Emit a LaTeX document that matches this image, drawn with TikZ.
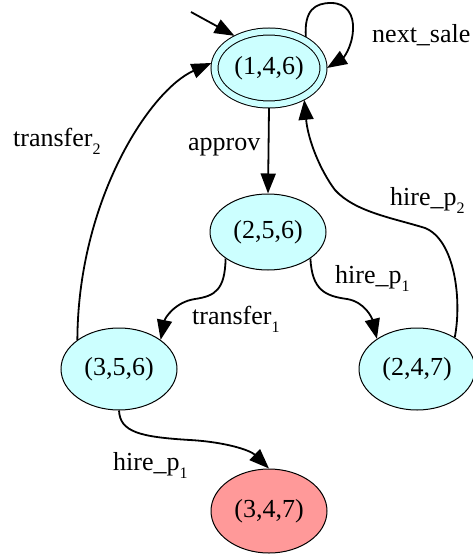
\documentclass[tikz,border=0pt]{standalone}
\usepackage{fontspec}
\setmainfont{Liberation Serif}
\usetikzlibrary{shapes.geometric,arrows.meta}
\definecolor{statecyan}{RGB}{204,255,255}
\definecolor{statered}{RGB}{255,153,153}
\newcommand{\lsub}[1]{\raisebox{-8pt}{\fontsize{16}{18}\selectfont #1}}
\begin{document}
\begin{tikzpicture}[x=1pt,y=-1pt,
  state/.style={ellipse,draw,line width=1pt,fill=statecyan,inner sep=0pt,
    minimum width=116pt,font=\fontsize{26}{30}\selectfont},
  accept/.style={state,double=statecyan,double distance=6pt,outer sep=3.5pt},
  edge/.style={line width=1.8pt,-{Triangle[length=20pt,width=15pt]}},
  lbl/.style={anchor=base west,inner sep=0pt,font=\fontsize{26}{30}\selectfont}]
\useasboundingbox (0,0) rectangle (472,556);

% States
\node[accept, minimum width=109pt, minimum height=73pt] (n146) at (269,68) {(1,4,6)};
\node[state, minimum height=76pt] (n256) at (268,232) {(2,5,6)};
\node[state, minimum height=82pt] (n356) at (119,369) {(3,5,6)};
\node[state, minimum height=82pt] (n247) at (417,369) {(2,4,7)};
\node[state, fill=statered, minimum height=84pt] (n347) at (269,511) {(3,4,7)};

% Start arrow
\coordinate (start) at (191,12);
\draw[edge] (start) -- (n146.137);

% Transitions
\draw[edge] (n146.40) .. controls (304,10) and (315,3) .. (331,3)
  .. controls (347,3) and (354,15) .. (353,30)
  .. controls (352,48) and (343,58) .. (n146.east);
\draw[edge] (n146.south) -- (n256.north);
\draw[edge] (n256.212) .. controls (225,290) and (215,296) .. (195,299)
  .. controls (175,302) and (165,318) .. (n356.35);
\draw[edge] (n256.-32) .. controls (312,290) and (325,296) .. (347,299)
  .. controls (365,302) and (372,318) .. (n247.143);
\draw[edge] (n247.40) .. controls (462,300) and (455,240) .. (425,228)
  .. controls (393,218) and (355,212) .. (335,190)
  .. controls (320,170) and (308,140) .. (n146.-42);
\draw[edge] (n356.145) .. controls (78,200) and (150,90) .. (n146.175);
\draw[edge] (n356.south) .. controls (120,432) and (140,437) .. (190,440)
  .. controls (225,442) and (250,450) .. (n347.north);

% Labels
\node[lbl] (l-next) at (372,43) {next\_sale};
\node[lbl] (l-approv) at (188,151) {approv};
\node[lbl] (l-tr2) at (13,147) {transfer\lsub{2}};
\node[lbl] (l-hp2) at (390,205) {hire\_p\lsub{2}};
\node[lbl] (l-hp1a) at (335,283) {hire\_p\lsub{1}};
\node[lbl] (l-tr1) at (192,324) {transfer\lsub{1}};
\node[lbl] (l-hp1b) at (113,470) {hire\_p\lsub{1}};
\end{tikzpicture}
\end{document}
